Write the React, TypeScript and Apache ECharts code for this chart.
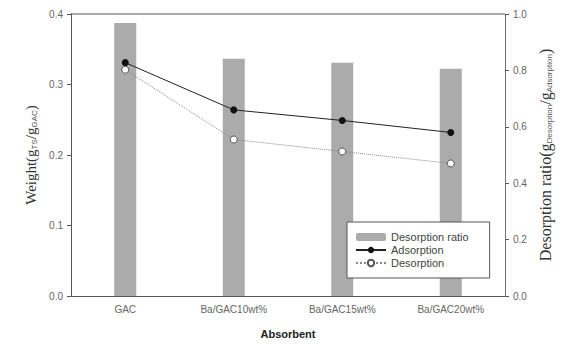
import React, { useEffect, useRef } from "react";
import * as echarts from "echarts";

const categories = ["GAC", "Ba/GAC10wt%", "Ba/GAC15wt%", "Ba/GAC20wt%"];
const desorptionRatio = [0.968, 0.841, 0.827, 0.806];
const adsorption = [0.331, 0.264, 0.249, 0.232];
const desorption = [0.321, 0.222, 0.205, 0.188];
const leftTicks = [0, 0.1, 0.2, 0.3, 0.4];
const rightTicks = [0, 0.2, 0.4, 0.6, 0.8, 1.0];

export default function App() {
  const ref = useRef<HTMLDivElement>(null);
  useEffect(() => {
    if (!ref.current) return;
    const chart = echarts.init(ref.current, null, { renderer: "svg" });
    const axisColor = "#555";
    const labelStyle = { color: "#666", fontSize: 10, fontFamily: "Liberation Sans" };
    chart.setOption({
      animation: false,
      backgroundColor: "#fff",
      grid: { left: 71, right: 61, top: 14, bottom: 47 },
      legend: {
        orient: "vertical",
        left: 347,
        top: 222,
        data: ["Desorption ratio", "Adsorption", "Desorption"],
        backgroundColor: "#fff",
        borderColor: axisColor,
        borderWidth: 1,
        padding: [9, 21, 9, 8],
        itemWidth: 30,
        itemHeight: 8,
        itemGap: 1,
        textStyle: { color: "#444", fontSize: 11, fontFamily: "Liberation Sans", lineHeight: 12 },
      },
      xAxis: {
        type: "category",
        data: categories,
        name: "Absorbent",
        nameLocation: "middle",
        nameGap: 32,
        nameTextStyle: { color: "#222", fontSize: 11, fontWeight: "bold", fontFamily: "Liberation Sans" },
        axisLine: { lineStyle: { color: axisColor, width: 1 } },
        axisTick: { alignWithLabel: true, length: 4, lineStyle: { color: axisColor } },
        axisLabel: { ...labelStyle, margin: 8 },
        splitLine: { show: false },
      },
      yAxis: [
        {
          type: "value",
          min: leftTicks[0],
          max: leftTicks[leftTicks.length - 1],
          interval: 0.1,
          position: "left",
          name: "Weight(g{sub|TS}/g{sub|GAC})",
          nameLocation: "middle",
          nameGap: 33,
          nameRotate: 90,
          nameTextStyle: {
            color: "#333",
            fontSize: 15,
            fontFamily: "Liberation Serif",
            rich: {
              sub: { fontSize: 8, fontFamily: "Liberation Sans", color: "#555", verticalAlign: "bottom", padding: [6, 0, 0, 0] },
            },
          },
          axisLine: { show: true, lineStyle: { color: axisColor, width: 1 } },
          axisTick: { show: true, length: 4, lineStyle: { color: axisColor } },
          axisLabel: { ...labelStyle, margin: 8, formatter: (v: number) => v.toFixed(1) },
          splitLine: { show: false },
        },
        {
          type: "value",
          min: rightTicks[0],
          max: rightTicks[rightTicks.length - 1],
          interval: 0.2,
          position: "right",
          name: "Desorption ratio(g{sub|Desorption}/g{sub|Adsorption})",
          nameLocation: "middle",
          nameGap: 30,
          nameRotate: 90,
          nameTextStyle: {
            color: "#333",
            fontSize: 16,
            fontFamily: "Liberation Serif",
            rich: {
              sub: { fontSize: 8, fontFamily: "Liberation Sans", color: "#555", verticalAlign: "bottom", padding: [7, 0, 0, 0] },
            },
          },
          axisLine: { show: true, lineStyle: { color: axisColor, width: 1, type: "dotted" } },
          axisTick: { show: true, length: 4, lineStyle: { color: axisColor } },
          axisLabel: { ...labelStyle, margin: 8, formatter: (v: number) => v.toFixed(1) },
          splitLine: { show: false },
        },
      ],
      graphic: [
        {
          type: "line",
          shape: { x1: 71, y1: 14, x2: 505, y2: 14 },
          style: { stroke: axisColor, lineWidth: 1 },
        },
      ],
      series: [
        {
          name: "Desorption ratio",
          type: "bar",
          yAxisIndex: 1,
          data: desorptionRatio,
          barWidth: 22,
          itemStyle: { color: "#ababab" },
        },
        {
          name: "Adsorption",
          type: "line",
          yAxisIndex: 0,
          data: adsorption,
          symbol: "circle",
          symbolSize: 7,
          lineStyle: { color: "#222", width: 1 },
          itemStyle: { color: "#111" },
        },
        {
          name: "Desorption",
          type: "line",
          yAxisIndex: 0,
          data: desorption,
          symbol: "circle",
          symbolSize: 7,
          lineStyle: { color: "#888", width: 1, type: "dotted" },
          itemStyle: { color: "#fff", borderColor: "#555", borderWidth: 1 },
        },
      ],
    });
    return () => chart.dispose();
  }, []);
  return (
    <div
      ref={ref}
      style={{ position: "absolute", left: 0, top: 0, width: 566, height: 344 }}
    />
  );
}
